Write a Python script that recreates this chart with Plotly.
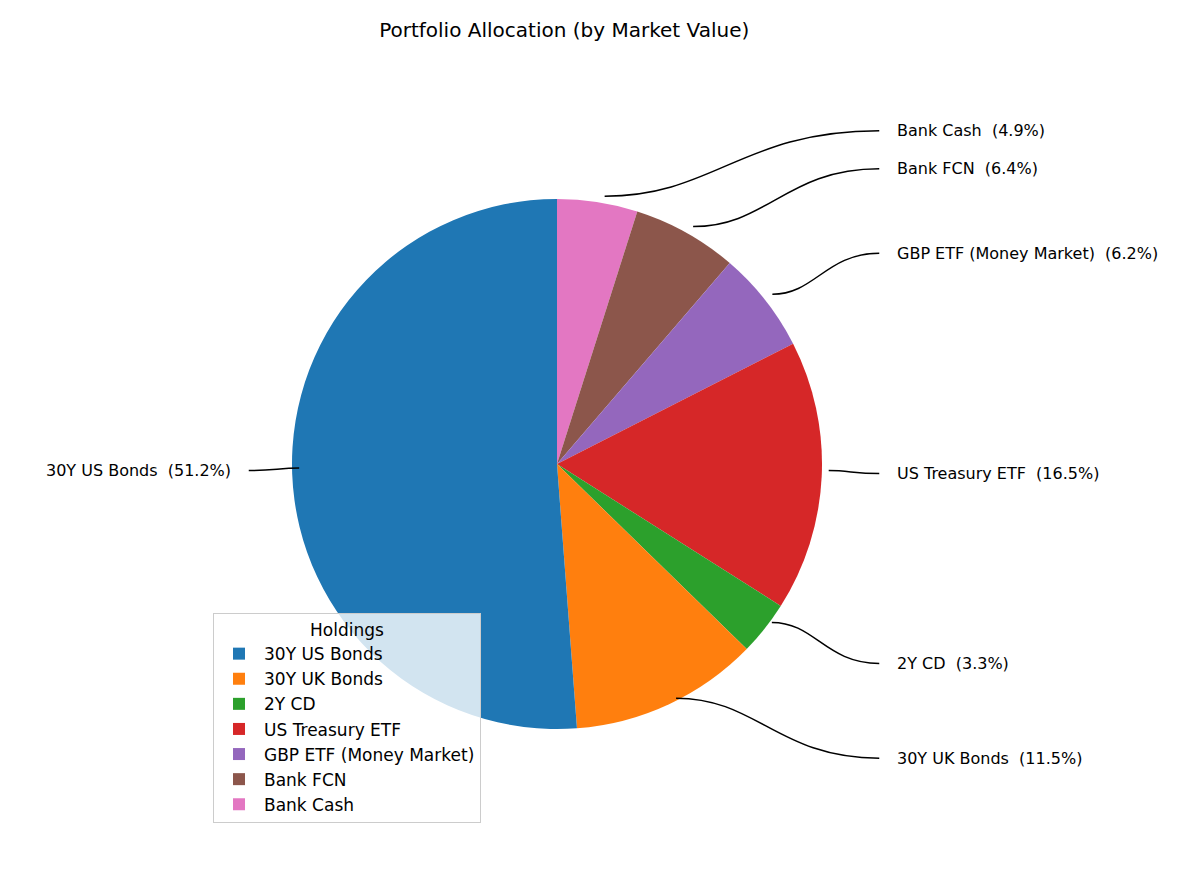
import math
import plotly.graph_objects as go

labels = ["30Y US Bonds", "30Y UK Bonds", "2Y CD", "US Treasury ETF",
          "GBP ETF (Money Market)", "Bank FCN", "Bank Cash"]
values = [51.2, 11.5, 3.3, 16.5, 6.2, 6.4, 4.9]
colors = ["#1f77b4", "#ff7f0e", "#2ca02c", "#d62728", "#9467bd", "#8c564b", "#e377c2"]

W, H = 1200, 873
cx, cy, R = 556, 450, 265
sh = 7  # plotly domain offset correction

fig = go.Figure(go.Pie(
    labels=labels[::-1], values=values[::-1], sort=False, direction="clockwise",
    rotation=0, textinfo="none", hoverinfo="label+percent",
    marker=dict(colors=colors[::-1], line=dict(width=0)),
    domain=dict(x=[(cx - sh - R) / W, (cx - sh + R) / W], y=[1 - (cy + R + 6) / H, 1 - (cy - R + 6) / H]),
))

def px(x, y):
    return x / W, 1 - y / H

total = sum(values)
start = 90.0
anns, shapes = [], []
for lab, v in zip(labels, values):
    span = v / total * 360
    mid = math.radians(start + span / 2)
    start += span
    c, s = math.cos(mid), math.sin(mid)
    sign = 1 if c >= 0 else -1
    p0 = (cx + R * c, cy - R * s)
    ty = cy - 1.25 * R * s
    tx = cx + sign * 1.25 * R
    p1 = (tx - sign * 16, ty - 7 * (1 if s < -0.3 else 0) * 0)
    dx = p1[0] - p0[0]
    c1 = (p0[0] + 0.4 * dx, p0[1])
    c2 = (p0[0] + 0.5 * dx, p1[1])
    a, b1, b2, d = px(*p0), px(*c1), px(*c2), px(*p1)
    shapes.append(dict(type="path", xref="paper", yref="paper",
                       path=f"M {a[0]},{a[1]} C {b1[0]},{b1[1]} {b2[0]},{b2[1]} {d[0]},{d[1]}",
                       line=dict(color="black", width=1.5)))
    t = px(tx, ty)
    anns.append(dict(x=t[0], y=t[1], xref="paper", yref="paper",
                     text=f"{lab}  ({v:.1f}%)", showarrow=False,
                     xanchor="left" if sign > 0 else "right", yanchor="middle",
                     font=dict(size=16, color="black")))

fig.update_layout(
    width=W, height=H, margin=dict(l=0, r=0, t=0, b=0),
    paper_bgcolor="white", plot_bgcolor="white",
    font=dict(family="DejaVu Sans", color="black"),
    title=dict(text="Portfolio Allocation (by Market Value)", x=0.4635, xanchor="center",
               y=1 - 22 / H, yanchor="middle", font=dict(size=20)),
    annotations=anns, shapes=shapes,
    legend=dict(title=dict(text="Holdings", side="top center", font=dict(size=17)),
                x=205 / W, y=1 - 605 / H, xanchor="left", yanchor="top",
                traceorder="reversed",
                bgcolor="rgba(255,255,255,0.8)", bordercolor="#cccccc", borderwidth=1,
                font=dict(size=17), itemwidth=40),
)
fig.write_html("out.html")
